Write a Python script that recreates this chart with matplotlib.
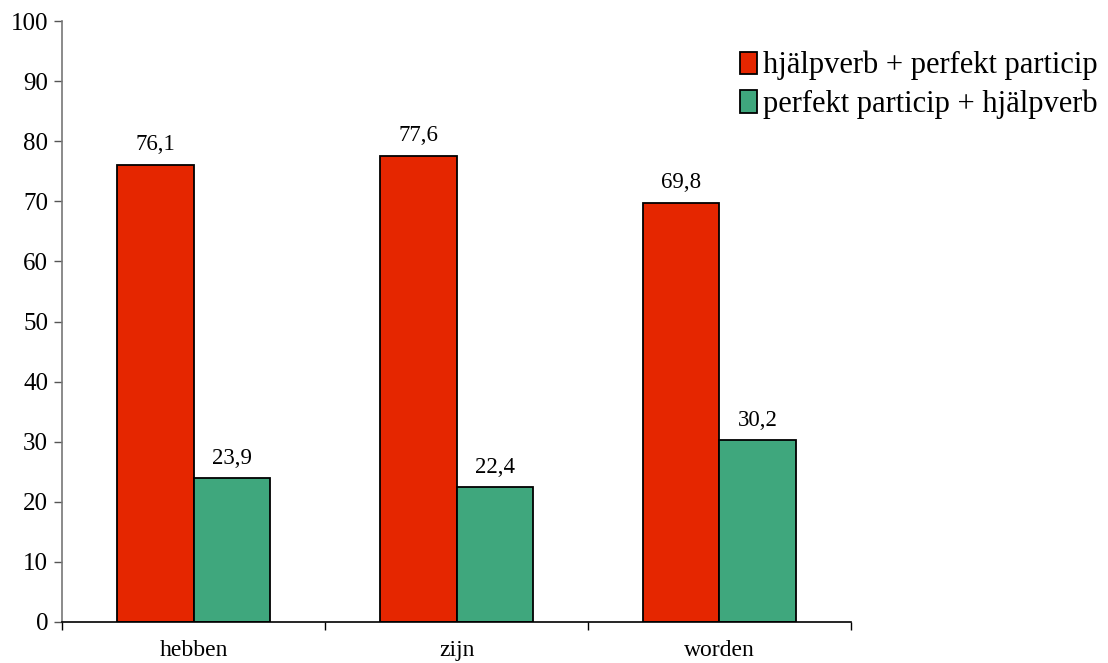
import matplotlib
matplotlib.use("Agg")
import matplotlib.pyplot as plt
import numpy as np

categories = ["hebben", "zijn", "worden"]
series_names = ["hjälpverb + perfekt particip", "perfekt particip + hjälpverb"]
aux_first = [76.1, 77.6, 69.8]
part_first = [23.9, 22.4, 30.2]
y_ticks = [0, 10, 20, 30, 40, 50, 60, 70, 80, 90, 100]

plt.rcParams["font.family"] = ["Liberation Serif", "DejaVu Serif"]

fig = plt.figure(figsize=(11.08, 6.63), dpi=100)
ax = fig.add_axes([62 / 1108, 1 - 622 / 663, (851 - 62) / 1108, (622 - 21) / 663])

x = np.arange(len(categories))
w = 0.289
colors = ["#E52600", "#3FA77D"]
b1 = ax.bar(x - w / 2, aux_first, w, color=colors[0], edgecolor="black", linewidth=1.3, label=series_names[0])
b2 = ax.bar(x + w / 2, part_first, w, color=colors[1], edgecolor="black", linewidth=1.3, label=series_names[1])

for bars, vals in ((b1, aux_first), (b2, part_first)):
    for r, v in zip(bars, vals):
        ax.text(r.get_x() + r.get_width() / 2, v + 1.6, f"{v:.1f}".replace(".", ","),
                ha="center", va="bottom", fontsize=16.5)

ax.set_xlim(-0.5, len(categories) - 0.5)
ax.set_ylim(0, 100)
ax.set_yticks(y_ticks)
ax.tick_params(axis="y", labelsize=18, length=6, width=1, color="#555555", pad=4)
ax.set_xticks(x)
ax.set_xticklabels(categories, fontsize=17)
ax.tick_params(axis="x", length=0, pad=13)
ax.set_xticks(np.arange(len(categories) + 1) - 0.5, minor=True)
ax.tick_params(axis="x", which="minor", length=6, width=1, color="black")

for s in ("top", "right"):
    ax.spines[s].set_visible(False)
ax.spines["left"].set_color("#777777")
ax.spines["left"].set_linewidth(1.2)
ax.spines["bottom"].set_color("black")
ax.spines["bottom"].set_linewidth(1.2)

fig.legend(handles=[b1, b2], labels=series_names, loc="upper left",
           bbox_to_anchor=(740 / 1108, 1 - 51 / 663), frameon=False, fontsize=22,
           handlelength=0.55, handleheight=0.75, handletextpad=0.2, labelspacing=0.3,
           borderaxespad=0, borderpad=0)

fig.savefig("out.png", dpi=100)
